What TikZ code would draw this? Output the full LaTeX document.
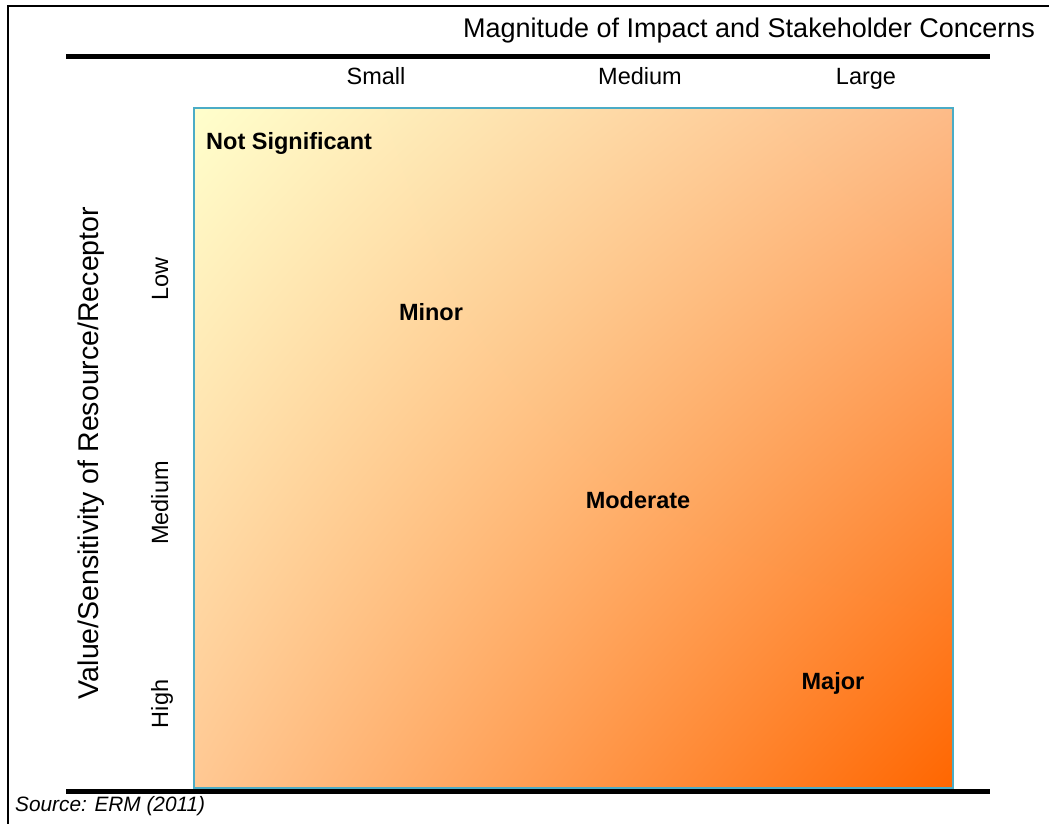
\documentclass[tikz,border=0pt]{standalone}
\usepackage{fontspec}
\setmainfont{Liberation Sans}
\usetikzlibrary{shadings}
\definecolor{boxedge}{HTML}{4BACC6}
\definecolor{lowlow}{HTML}{FFFFCC}
\definecolor{lowhigh}{HTML}{FDBB88}
\definecolor{highlow}{HTML}{FFC893}
\definecolor{highhigh}{HTML}{FF6600}

\begin{document}
\begin{tikzpicture}[x=1pt, y=-1pt,
    heading/.style={font=\fontsize{27}{32}\selectfont, inner sep=0pt},
    axislabel/.style={font=\fontsize{23.5}{28}\selectfont, inner sep=0pt, anchor=base},
    level/.style={font=\fontsize{23.5}{28}\selectfont\bfseries, inner sep=0pt}]
    \useasboundingbox (0,0) rectangle (1049,824);

    % Frame
    \draw[line width=1.5pt] (8,824) -- (8,6) -- (1049,6);

    % Matrix box
    \shade[upper left=lowlow, upper right=lowhigh, lower left=highlow, lower right=highhigh]
        (194,108) rectangle (953,788);
    \draw[boxedge, line width=1.5pt] (194,108) rectangle (953,788);

    % Rules
    \draw[line width=5pt] (66,57) -- (990,57);
    \draw[line width=5pt] (66,791) -- (990,791);

    % Axis titles
    \node[heading] (xtitle) at (749,31) {Magnitude of Impact and Stakeholder Concerns};
    \node[heading, font=\fontsize{28.5}{34}\selectfont, rotate=90] (ytitle) at (91,453) {Value/Sensitivity of Resource/Receptor};

    % Column labels
    \node[axislabel] (small) at (376,85) {Small};
    \node[axislabel] (medcol) at (640,85) {Medium};
    \node[axislabel] (large) at (866,85) {Large};

    % Row labels
    \node[axislabel, rotate=90] (low) at (168,279) {Low};
    \node[axislabel, rotate=90] (medrow) at (168,503) {Medium};
    \node[axislabel, rotate=90] (high) at (168,704) {High};

    % Significance
    \node[level, anchor=west] (notsig) at (206,143) {Not Significant};
    \node[level] (minor) at (431,312) {Minor};
    \node[level] (moderate) at (638,500) {Moderate};
    \node[level] (major) at (833,683) {Major};

    % Source
    \node[font=\fontsize{20.8}{25}\selectfont\itshape, inner sep=0pt, anchor=west] (source) at (15,806) {Source: ERM (2011)};
\end{tikzpicture}
\end{document}
